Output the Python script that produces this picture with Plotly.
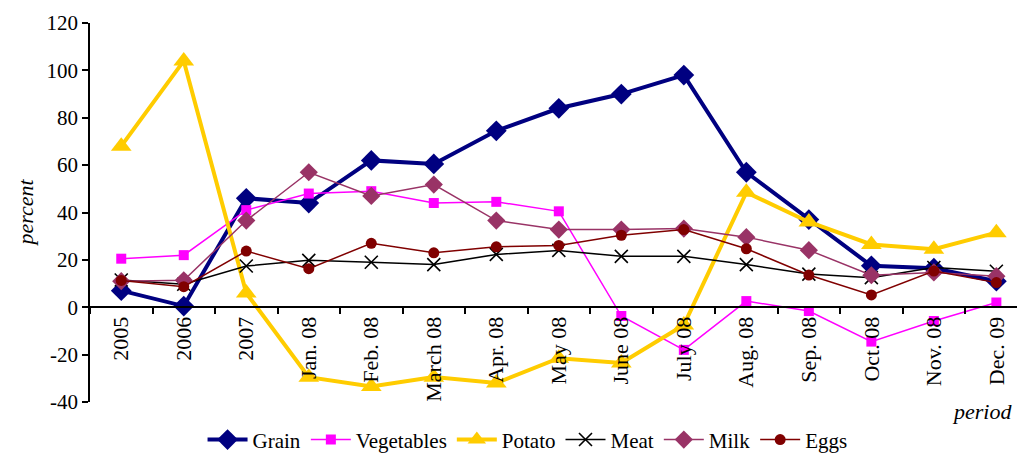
import plotly.graph_objects as go

periods = ["2005", "2006", "2007", "Jan. 08", "Feb. 08", "March 08", "Apr. 08",
           "May 08", "June 08", "July 08", "Aug. 08", "Sep. 08", "Oct. 08",
           "Nov. 08", "Dec. 09"]

grain = [7, 0.5, 46, 44, 62, 60.5, 74.5, 84, 90, 98, 57, 37, 17.5, 16.5, 11]
vegetables = [20.5, 22, 41, 48, 49, 44, 44.5, 40.5, -3.7, -18, 2.6, -1.6, -14.5, -5.8, 2]
potato = [68, 104, 6, -29.5, -33.5, -29.5, -32, -21.5, -23.5, -7.5, 48.5, 36, 26.5, 24.5, 31.5]
meat = [11.5, 9.7, 17.4, 19.8, 19, 18, 22.3, 24, 21.5, 21.5, 18, 14, 12.5, 16.8, 15.2]
milk = [11, 11.4, 36.6, 57, 47, 51.8, 36.6, 32.8, 32.8, 33.2, 29.6, 24.1, 13.5, 14.7, 13.1]
eggs = [11.3, 8.7, 23.7, 16.3, 27, 23, 25.5, 26.1, 30.4, 32.8, 24.7, 13.6, 5.2, 15.3, 10.4]

y_ticks = [-40, -20, 0, 20, 40, 60, 80, 100, 120]
y_tick_text = ["-40", "-20", "0", "20", "40", "60", "80", "100", "120"]

FONT = "Liberation Serif"

# name, values, colour, line width, marker symbol, marker size, marker outline width
series = [
    ("Grain", grain, "#000080", 4, "diamond", 16, 0),
    ("Vegetables", vegetables, "#FF00FF", 1.5, "square", 10, 0),
    ("Potato", potato, "#FFCC00", 4, "triangle-up", 18, 0),
    ("Meat", meat, "#000000", 1.5, "x-thin-open", 13, 1.6),
    ("Milk", milk, "#993366", 1.5, "diamond", 14, 0),
    ("Eggs", eggs, "#800000", 1.5, "circle", 11, 0),
]

fig = go.Figure()
for name, vals, color, lw, sym, msize, mlw in series:
    marker = dict(symbol=sym, size=msize, color=color)
    marker["line"] = dict(color=color, width=mlw) if mlw else dict(width=0)
    fig.add_trace(go.Scatter(
        x=periods, y=vals, name=name, mode="lines+markers",
        line=dict(color=color, width=lw), marker=marker,
    ))

fig.update_layout(
    width=1017, height=454,
    margin=dict(l=90, r=0, t=23, b=52, autoexpand=False),
    paper_bgcolor="white", plot_bgcolor="white",
    font=dict(family=FONT, color="black", size=21),
    showlegend=True,
    legend=dict(orientation="h", x=0.472, xanchor="center", y=-0.1, yanchor="middle",
                font=dict(family=FONT, size=21), itemwidth=40, tracegroupgap=0,
                bgcolor="rgba(0,0,0,0)"),
    # category axis crossing the value axis at zero (paper position 0.25 of -40..120)
    xaxis=dict(
        type="category", range=[-0.5, 14.33],
        anchor="free", position=0.25,
        showline=True, linecolor="black", linewidth=1.5,
        ticks="outside", tickson="boundaries", ticklen=6, tickcolor="black", tickwidth=1.5,
        tickangle=-90, tickfont=dict(family=FONT, size=22),
        showgrid=False, zeroline=False,
    ),
    yaxis=dict(
        range=[-40, 120], tickvals=y_ticks, ticktext=y_tick_text,
        showline=True, linecolor="black", linewidth=1.5,
        ticks="outside", ticklen=6, tickcolor="black", tickwidth=1.5,
        tickfont=dict(family=FONT, size=21),
        showgrid=False, zeroline=False,
    ),
    annotations=[
        dict(text="<i>percent</i>", xref="paper", yref="paper",
             x=-0.070, y=0.5, textangle=-90, showarrow=False,
             font=dict(family=FONT, size=22), xanchor="center", yanchor="middle"),
        dict(text="<i>period</i>", xref="paper", yref="paper",
             x=0.962, y=-0.024, showarrow=False,
             font=dict(family=FONT, size=22), xanchor="center", yanchor="middle"),
    ],
)

fig.write_html("out.html")
